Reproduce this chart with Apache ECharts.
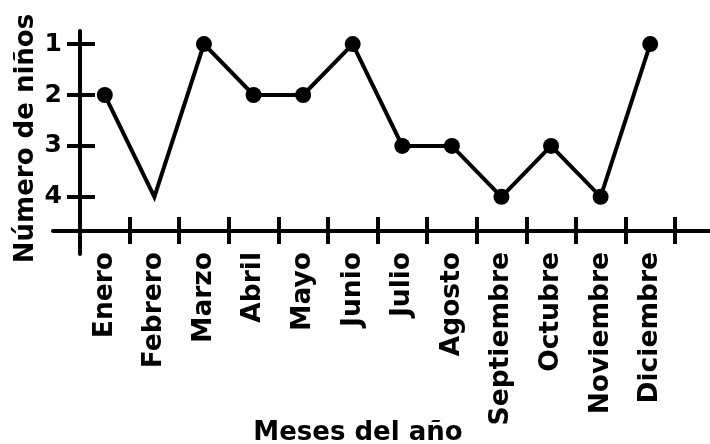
<!DOCTYPE html>
<html>
<head>
<meta charset="utf-8">
<script src="https://cdn.jsdelivr.net/npm/echarts@6/dist/echarts.min.js"></script>
<style>
html,body{margin:0;padding:0;background:#fff;}
#chart{width:710px;height:444px;}
</style>
</head>
<body>
<div id="chart"></div>
<script>
const meses = ['Enero','Febrero','Marzo','Abril','Mayo','Junio','Julio','Agosto','Septiembre','Octubre','Noviembre','Diciembre'];
const ninos = [2,4,1,2,2,1,3,3,4,3,4,1];
const yTicks = [1,2,3,4];
const sinMarcador = ['Febrero'];

const FONT = 'DejaVu Sans';
const BLACK = '#000';
const yMin = 0.743, yMax = 4.671;

const chart = echarts.init(document.getElementById('chart'), null, {renderer:'canvas'});
const seriesData = ninos.map((v,i) => sinMarcador.includes(meses[i]) ? {value:v, symbol:'none'} : v);

chart.setOption({
  backgroundColor:'#fff',
  animation:false,
  grid:[
    {left:80, top:31, width:595, height:200, outerBoundsMode:'none', containLabel:false},
    {left:53, top:31, right:0, height:200, outerBoundsMode:'none', containLabel:false},
    {left:80, top:31, width:1, height:223, outerBoundsMode:'none', containLabel:false}
  ],
  xAxis:[
    {gridIndex:0, type:'category', data:meses, boundaryGap:true, position:'bottom',
     axisLine:{show:false},
     axisTick:{show:false},
     axisLabel:{interval:0, rotate:90, margin:21, fontSize:26.5, fontWeight:'bold', color:BLACK, fontFamily:FONT},
     splitLine:{show:false},
     name:'Meses del año', nameLocation:'middle', nameGap:189, nameMoveOverlap:false,
     nameTextStyle:{fontSize:26, fontWeight:'bold', color:BLACK, fontFamily:FONT, padding:[0,39,0,0]}},
    {gridIndex:0, type:'category', data:meses, boundaryGap:true, position:'bottom', offset:13,
     axisLine:{show:false},
     axisTick:{show:true, inside:true, interval:0, length:27, lineStyle:{color:BLACK, width:4}},
     axisLabel:{show:false}, splitLine:{show:false}},
    {gridIndex:1, type:'value', min:0, max:1, position:'bottom',
     axisLine:{show:true, lineStyle:{color:BLACK, width:4}},
     axisTick:{show:false}, axisLabel:{show:false}, splitLine:{show:false}},
    {gridIndex:2, type:'value', show:false}
  ],
  yAxis:[
    {gridIndex:0, type:'value', inverse:true, min:yMin, max:yMax, position:'left',
     axisLine:{show:false},
     axisTick:{show:false},
     axisLabel:{customValues:yTicks, margin:18, fontSize:25, fontWeight:'bold', color:BLACK, fontFamily:FONT},
     splitLine:{show:false},
     name:'Número de niños', nameLocation:'middle', nameGap:41, nameMoveOverlap:false,
     nameTextStyle:{fontSize:26, fontWeight:'bold', color:BLACK, fontFamily:FONT, padding:[0,15,0,0]}},
    {gridIndex:0, type:'value', inverse:true, min:yMin, max:yMax, position:'left', offset:13,
     axisLine:{show:false},
     axisTick:{show:true, inside:true, length:28, customValues:yTicks, lineStyle:{color:BLACK, width:4}},
     axisLabel:{show:false}, splitLine:{show:false}},
    {gridIndex:1, type:'value', show:false},
    {gridIndex:2, type:'value', min:0, max:1, position:'left',
     axisLine:{show:true, lineStyle:{color:BLACK, width:4}},
     axisTick:{show:false}, axisLabel:{show:false}, splitLine:{show:false}}
  ],
  series:[{
    type:'line', xAxisIndex:0, yAxisIndex:0, data:seriesData,
    symbol:'circle', symbolSize:16, z:10,
    lineStyle:{color:BLACK, width:4, join:'miter'},
    itemStyle:{color:BLACK}
  }]
});
</script>
</body>
</html>
